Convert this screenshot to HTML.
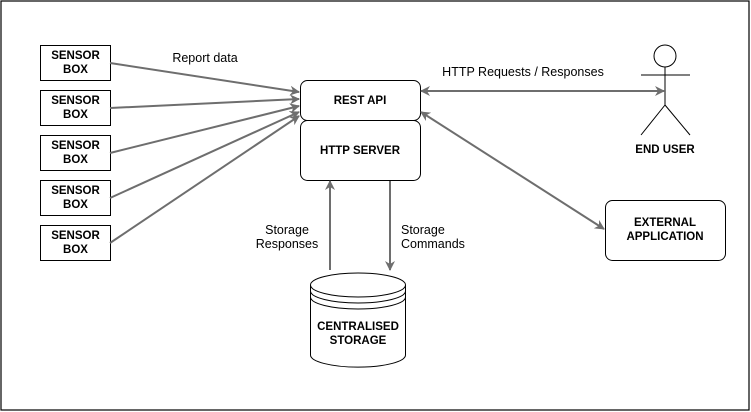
<!DOCTYPE html>
<html><head><style>html,body{margin:0;padding:0;background:#fff}svg{display:block}</style></head>
<body>
<svg width="751" height="412" xmlns="http://www.w3.org/2000/svg" font-family="Liberation Sans, Arial, sans-serif" font-size="11.5" font-weight="bold">
<defs>
<marker id="a" markerWidth="10" markerHeight="10" refX="9" refY="5" orient="auto" markerUnits="userSpaceOnUse"><path d="M0,0 L10,5 L0,10 L3,5 z" fill="#6e6e6e"/></marker>
<marker id="s" markerWidth="10" markerHeight="10" refX="1" refY="5" orient="auto" markerUnits="userSpaceOnUse"><path d="M10,0 L0,5 L10,10 L7,5 z" fill="#6e6e6e"/></marker>
</defs>
<rect x="1" y="1" width="748" height="409" fill="#fff" stroke="#000" stroke-width="1.2"/>
<g stroke="#000" fill="#fff" stroke-width="1">
<rect x="40.5" y="45.5" width="70" height="35"/>
<rect x="40.5" y="90.5" width="70" height="35"/>
<rect x="40.5" y="135.5" width="70" height="35"/>
<rect x="40.5" y="180.5" width="70" height="35"/>
<rect x="40.5" y="225.5" width="70" height="35"/>
<rect x="300.5" y="80.5" width="120" height="40" rx="7"/>
<rect x="300.5" y="120.5" width="120" height="60" rx="7"/>
<rect x="605.5" y="200.5" width="120" height="60" rx="7"/>
<path d="M310.5,285 L310.5,355 A47,12 0 0 0 405.5,355 L405.5,285"/>
<ellipse cx="358" cy="285" rx="47.5" ry="12"/>
<path d="M310.5,291 A47.5,12 0 0 0 405.5,291" fill="none"/>
<path d="M310.5,297 A47.5,12 0 0 0 405.5,297" fill="none"/>
<circle cx="665" cy="56" r="11"/>
<path d="M665,67 L665,105 M641,75 L690,75 M665,105 L641,135 M665,105 L690,135" fill="none"/>
</g>
<g stroke="#6e6e6e" stroke-width="2" fill="none">
<line x1="110" y1="63" x2="299" y2="92" marker-end="url(#a)"/>
<line x1="110" y1="108" x2="299" y2="99" marker-end="url(#a)"/>
<line x1="110" y1="153" x2="299" y2="106" marker-end="url(#a)"/>
<line x1="110" y1="198" x2="299" y2="112" marker-end="url(#a)"/>
<line x1="110" y1="243" x2="299" y2="116" marker-end="url(#a)"/>
<line x1="421" y1="91" x2="664" y2="91" marker-start="url(#s)" marker-end="url(#a)"/>
<line x1="421" y1="112" x2="604" y2="229" marker-start="url(#s)" marker-end="url(#a)"/>
<line x1="330" y1="270" x2="330" y2="181" marker-end="url(#a)"/>
<line x1="390" y1="181" x2="390" y2="270" marker-end="url(#a)"/>
</g>
<g fill="#000" text-anchor="middle">
<text x="75.5" y="59">SENSOR</text><text x="75.5" y="73">BOX</text>
<text x="75.5" y="104">SENSOR</text><text x="75.5" y="118">BOX</text>
<text x="75.5" y="149">SENSOR</text><text x="75.5" y="163">BOX</text>
<text x="75.5" y="194">SENSOR</text><text x="75.5" y="208">BOX</text>
<text x="75.5" y="239">SENSOR</text><text x="75.5" y="253">BOX</text>
<text x="360" y="104">REST API</text>
<text x="360" y="154">HTTP SERVER</text>
<text x="665" y="226">EXTERNAL</text><text x="665" y="240">APPLICATION</text>
<text x="358" y="330">CENTRALISED</text><text x="358" y="344">STORAGE</text>
<text x="665" y="153">END USER</text>
</g>
<g fill="#000" font-weight="normal" font-size="12.5" text-anchor="middle">
<text x="205" y="62">Report data</text>
<text x="523" y="76">HTTP Requests / Responses</text>
<text x="287" y="234">Storage</text><text x="287" y="248">Responses</text>
</g>
<g fill="#000" font-weight="normal" font-size="12.5">
<text x="401" y="234">Storage</text><text x="401" y="248">Commands</text>
</g>
</svg>
</body></html>
